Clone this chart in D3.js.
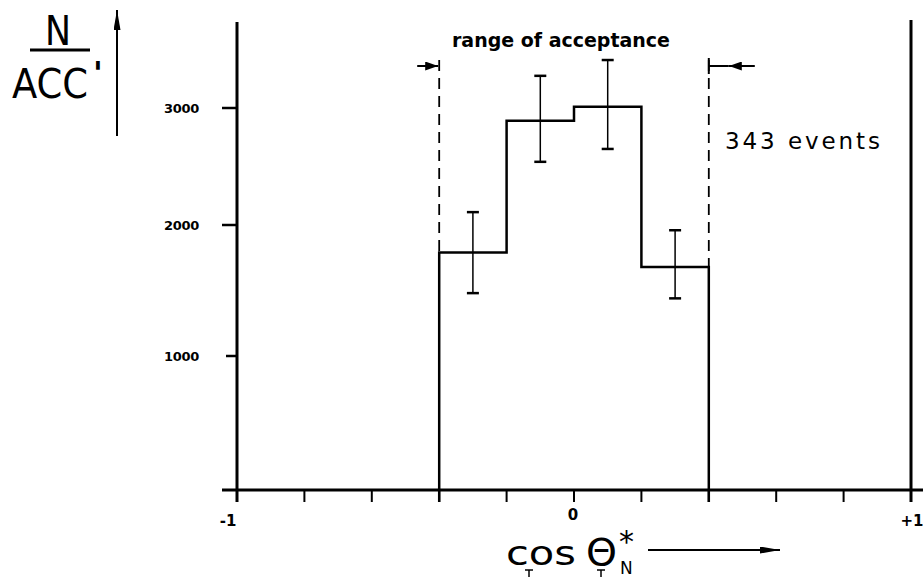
<!DOCTYPE html>
<html lang="en">
<head>
    <meta charset="UTF-8">
    <title>cos theta N distribution</title>
    <script src="https://d3js.org/d3.v7.min.js"></script>
    <style>
        body {
            margin: 0;
            background-color: #fff;
        }
        svg {
            display: block;
        }
        .tick-label {
            font-family: "DejaVu Sans", sans-serif;
            font-weight: bold;
            font-size: 13px;
            letter-spacing: -0.3px;
        }
    </style>
</head>
<body>
    <script>
        const width = 923;
        const height = 578;

        // histogram data
        const binEdges = [-0.4, -0.2, 0, 0.2, 0.4];
        const binValues = [1790, 2890, 3010, 1680];
        const binCenters = [-0.3, -0.1, 0.1, 0.3];
        const errLow = [1480, 2540, 2650, 1440];
        const errHigh = [2110, 3275, 3410, 1960];

        const yTicks = [1000, 2000, 3000];
        const yTickLabels = ["1000", "2000", "3000"];
        const xTicks = [-1, -0.8, -0.6, -0.4, -0.2, 0, 0.2, 0.4, 0.6, 0.8, 1];
        const xTickLabels = [{v: -1, t: "-1"}, {v: 0, t: "0"}, {v: 1, t: "+1"}];

        // the hand drawn axis is not quite even, so polylinear scale
        const x = d3.scaleLinear().domain([-1, 1]).range([237, 911]);
        const y = d3.scaleLinear().domain([0, 1000, 2000, 3000]).range([490, 356, 225, 108]);

        const svg = d3.select("body").append("svg")
            .attr("width", width)
            .attr("height", height)
            .attr("viewBox", [0, 0, width, height]);

        const defs = svg.append("defs");
        function marker(id, w, h) {
            defs.append("marker")
                .attr("id", id)
                .attr("viewBox", `0 0 ${w} ${h}`)
                .attr("refX", w).attr("refY", h / 2)
                .attr("markerWidth", w).attr("markerHeight", h)
                .attr("markerUnits", "userSpaceOnUse")
                .attr("orient", "auto")
                .append("path").attr("d", `M0,0 L${w},${h / 2} L0,${h} Z`).attr("fill", "#000");
        }
        marker("head", 13, 9);
        marker("headLong", 20, 7);

        const ink = "#000";

        // frame: left axis, right edge, bottom axis
        svg.append("line")
            .attr("x1", x(-1)).attr("x2", x(-1))
            .attr("y1", 22).attr("y2", y(0) + 12)
            .attr("stroke", ink).attr("stroke-width", 3);
        svg.append("line")
            .attr("x1", x(1)).attr("x2", x(1))
            .attr("y1", 20).attr("y2", y(0) + 12)
            .attr("stroke", ink).attr("stroke-width", 3);
        svg.append("line")
            .attr("x1", 222).attr("x2", width)
            .attr("y1", y(0)).attr("y2", y(0))
            .attr("stroke", ink).attr("stroke-width", 3);

        // y ticks
        svg.append("g").selectAll("line")
            .data(yTicks)
            .join("line")
            .attr("x1", (d, i) => i === 0 ? 226 : 222)
            .attr("x2", x(-1))
            .attr("y1", d => y(d)).attr("y2", d => y(d))
            .attr("stroke", ink).attr("stroke-width", 2.5);
        svg.append("g").selectAll("text")
            .data(yTicks)
            .join("text")
            .attr("class", "tick-label")
            .attr("x", 199)
            .attr("y", d => y(d))
            .attr("dy", "0.35em")
            .attr("text-anchor", "end")
            .text((d, i) => yTickLabels[i]);

        // x ticks (down from the axis)
        svg.append("g").selectAll("line")
            .data(xTicks)
            .join("line")
            .attr("x1", d => x(d)).attr("x2", d => x(d))
            .attr("y1", y(0)).attr("y2", y(0) + 12)
            .attr("stroke", ink).attr("stroke-width", 2);
        svg.append("g").selectAll("text")
            .data(xTickLabels)
            .join("text")
            .attr("x", d => x(d.v) + (d.v === -1 ? -9 : (d.v === 1 ? 1 : -1)))
            .attr("y", d => d.v === 0 ? 520 : 526)
            .attr("text-anchor", "middle")
            .style("font", "bold 15px 'DejaVu Sans', sans-serif")
            .text(d => d.t);

        // histogram outline
        const steps = [[binEdges[0], 0]];
        binValues.forEach((v, i) => {
            steps.push([binEdges[i], v]);
            steps.push([binEdges[i + 1], v]);
        });
        steps.push([binEdges[binEdges.length - 1], 0]);
        svg.append("path")
            .attr("d", d3.line().x(d => x(d[0])).y(d => y(d[1]))(steps))
            .attr("fill", "none")
            .attr("stroke", ink)
            .attr("stroke-width", 2.5)
            .attr("stroke-linejoin", "miter");
        // outer edges run a bit below the axis
        svg.append("g").selectAll("line")
            .data([binEdges[0], binEdges[binEdges.length - 1]])
            .join("line")
            .attr("x1", d => x(d)).attr("x2", d => x(d))
            .attr("y1", y(0)).attr("y2", y(0) + 12)
            .attr("stroke", ink).attr("stroke-width", 2.5);

        // error bars
        const eb = svg.append("g");
        binCenters.forEach((c, i) => {
            eb.append("line")
                .attr("x1", x(c)).attr("x2", x(c))
                .attr("y1", y(errLow[i])).attr("y2", y(errHigh[i]))
                .attr("stroke", ink).attr("stroke-width", 1.5);
            [errLow[i], errHigh[i]].forEach(v => {
                eb.append("line")
                    .attr("x1", x(c) - 6).attr("x2", x(c) + 6)
                    .attr("y1", y(v)).attr("y2", y(v))
                    .attr("stroke", ink).attr("stroke-width", 2.5);
            });
        });

        // range of acceptance: dashed limits and arrows
        const accTop = 60;
        const limits = [
            {v: binEdges[0], top: binValues[0]},
            {v: binEdges[binEdges.length - 1], top: binValues[binValues.length - 1]}
        ];
        svg.append("g").selectAll("line")
            .data(limits)
            .join("line")
            .attr("x1", d => x(d.v)).attr("x2", d => x(d.v))
            .attr("y1", accTop).attr("y2", d => y(d.top))
            .attr("stroke", ink).attr("stroke-width", 1.8)
            .attr("stroke-dasharray", "11,7");
        svg.append("line")
            .attr("x1", x(binEdges[0]) - 22).attr("x2", x(binEdges[0]) - 1)
            .attr("y1", 66).attr("y2", 66)
            .attr("stroke", ink).attr("stroke-width", 2)
            .attr("marker-end", "url(#head)");
        svg.append("line")
            .attr("x1", x(binEdges[4]) + 46).attr("x2", x(binEdges[4]) + 20)
            .attr("y1", 66).attr("y2", 66)
            .attr("stroke", ink).attr("stroke-width", 2)
            .attr("marker-end", "url(#head)");
        svg.append("line")
            .attr("x1", x(binEdges[4])).attr("x2", x(binEdges[4]) + 20)
            .attr("y1", 66).attr("y2", 66)
            .attr("stroke", ink).attr("stroke-width", 2);
        svg.append("line")
            .attr("x1", x(binEdges[4])).attr("x2", x(binEdges[4]))
            .attr("y1", 58).attr("y2", 74)
            .attr("stroke", ink).attr("stroke-width", 2);

        svg.append("text")
            .attr("x", 452).attr("y", 47)
            .attr("textLength", 218)
            .attr("lengthAdjust", "spacingAndGlyphs")
            .style("font", "bold 19px 'DejaVu Sans', sans-serif")
            .text("range of acceptance");

        svg.append("text")
            .attr("x", 725).attr("y", 149)
            .attr("textLength", 155)
            .style("font", "23px 'DejaVu Sans', sans-serif")
            .text("343 events");

        // y label N / ACC'
        svg.append("text")
            .attr("x", 45).attr("y", 45)
            .attr("textLength", 26)
            .attr("lengthAdjust", "spacingAndGlyphs")
            .style("font", "40px 'DejaVu Sans Condensed', 'DejaVu Sans', sans-serif")
            .text("N");
        svg.append("line")
            .attr("x1", 30).attr("x2", 90)
            .attr("y1", 50).attr("y2", 50)
            .attr("stroke", ink).attr("stroke-width", 3);
        svg.append("text")
            .attr("x", 12).attr("y", 98)
            .attr("textLength", 76)
            .attr("lengthAdjust", "spacingAndGlyphs")
            .style("font", "40px 'DejaVu Sans Condensed', 'DejaVu Sans', sans-serif")
            .text("ACC");
        svg.append("text")
            .attr("x", 93).attr("y", 84)
            .style("font", "bold 32px 'DejaVu Sans', sans-serif")
            .text("'");
        svg.append("line")
            .attr("x1", 117).attr("x2", 117)
            .attr("y1", 136).attr("y2", 10)
            .attr("stroke", ink).attr("stroke-width", 2)
            .attr("marker-end", "url(#headLong)");

        // x label cos Θ*_N with arrow
        svg.append("text")
            .attr("x", 506).attr("y", 565)
            .attr("textLength", 70)
            .attr("lengthAdjust", "spacingAndGlyphs")
            .style("font", "34px 'DejaVu Sans', sans-serif")
            .text("cos");
        svg.append("text")
            .attr("x", 586).attr("y", 565)
            .attr("textLength", 31)
            .attr("lengthAdjust", "spacingAndGlyphs")
            .style("font", "38px 'DejaVu Sans', sans-serif")
            .text("Θ");
        svg.append("text")
            .attr("x", 619).attr("y", 552)
            .style("font", "30px 'DejaVu Sans', sans-serif")
            .text("*");
        svg.append("text")
            .attr("x", 620).attr("y", 574)
            .style("font", "17px 'DejaVu Sans', sans-serif")
            .text("N");
        // little underline marks
        [529, 601].forEach(cx => {
            svg.append("line").attr("x1", cx - 4).attr("x2", cx + 4)
                .attr("y1", 570).attr("y2", 570).attr("stroke", ink).attr("stroke-width", 1.5);
            svg.append("line").attr("x1", cx).attr("x2", cx)
                .attr("y1", 570).attr("y2", 577).attr("stroke", ink).attr("stroke-width", 1.5);
        });
        svg.append("line")
            .attr("x1", 648).attr("x2", 780)
            .attr("y1", 550).attr("y2", 550)
            .attr("stroke", ink).attr("stroke-width", 2)
            .attr("marker-end", "url(#headLong)");
    </script>
</body>
</html>
